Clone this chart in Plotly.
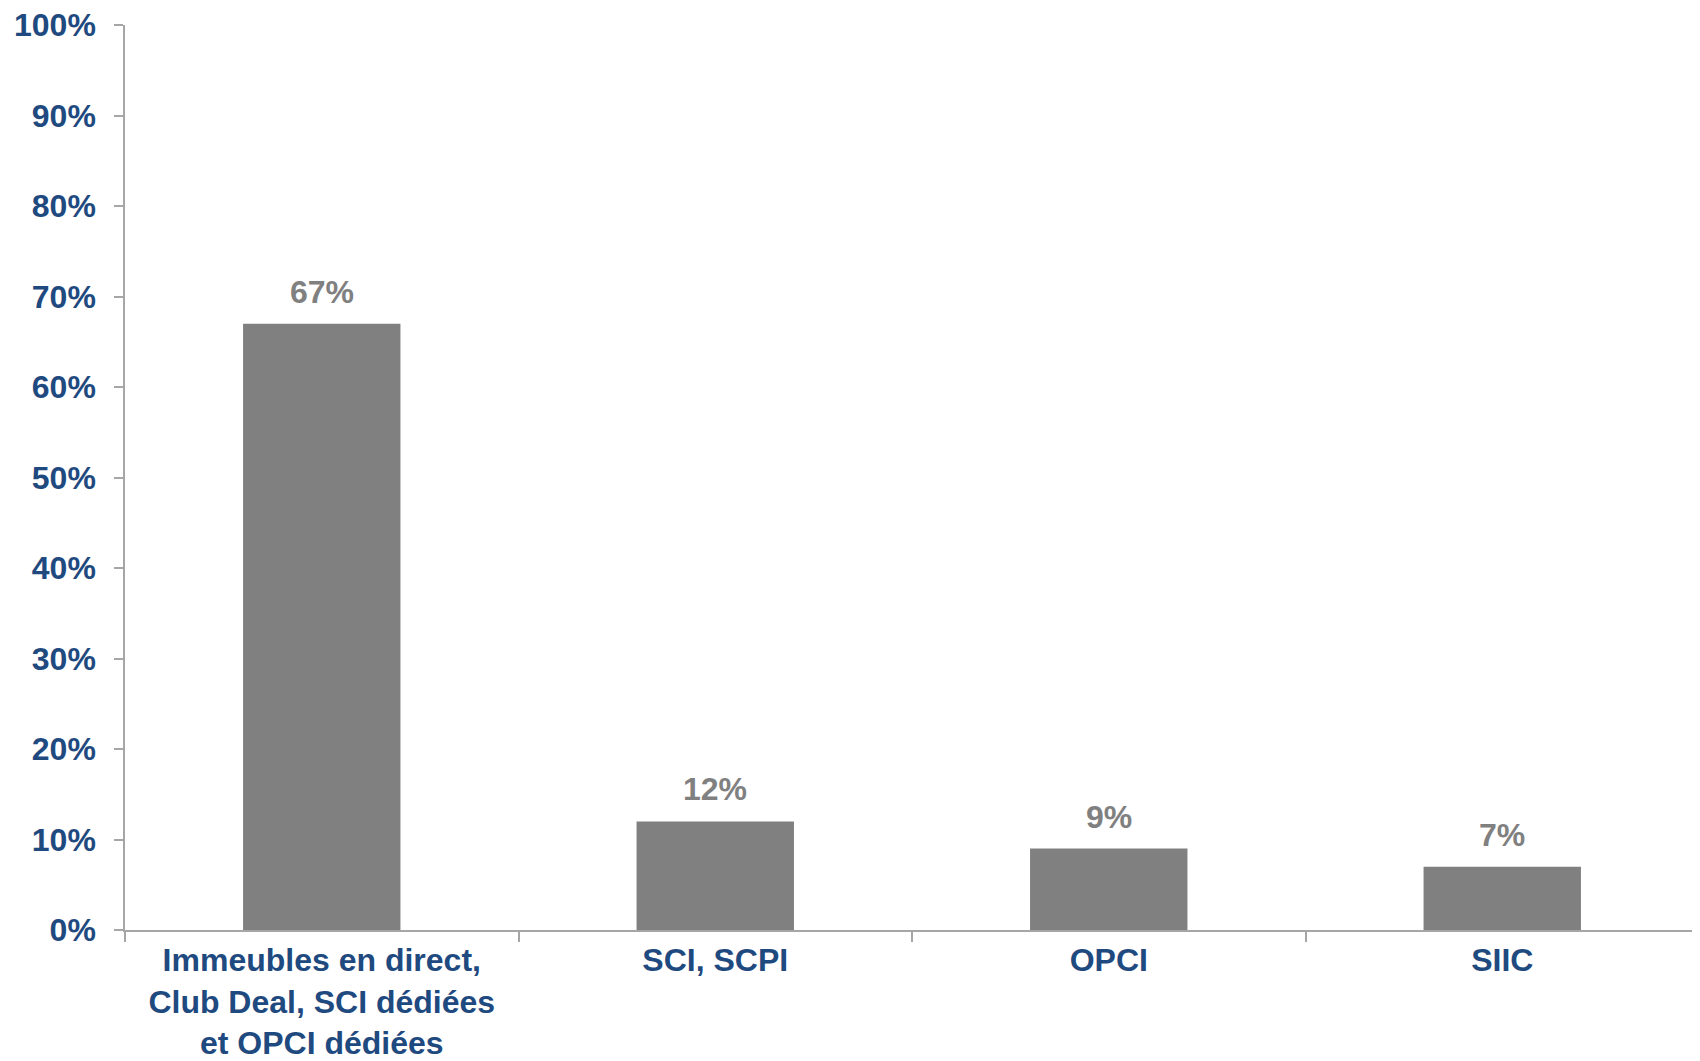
import plotly.graph_objects as go

categories = ["Immeubles en direct,<br>Club Deal, SCI dédiées<br>et OPCI dédiées", "SCI, SCPI", "OPCI", "SIIC"]
values = [0.67, 0.12, 0.09, 0.07]
labels = ["67%", "12%", "9%", "7%"]
y_ticks = [0, 0.1, 0.2, 0.3, 0.4, 0.5, 0.6, 0.7, 0.8, 0.9, 1.0]

BLUE = "#1F4A80"
GREY = "#808080"
AXIS = "#A6A6A6"
FONT = "Liberation Sans, Arial, sans-serif"

fig = go.Figure()
fig.add_trace(go.Bar(x=categories, y=values, marker=dict(color=GREY, line=dict(width=0)),
                     hoverinfo="x+y"))

for c, v, t in zip(categories, values, labels):
    fig.add_annotation(x=c, y=v, text=t, showarrow=False, yanchor="bottom", yshift=12,
                       font=dict(family=FONT, size=32, color=GREY, weight="bold"))

fig.update_layout(
    width=1692, height=1053,
    margin=dict(l=117, r=1, t=17, b=131),
    paper_bgcolor="white", plot_bgcolor="white",
    bargap=0.6, showlegend=False,
    font=dict(family=FONT, size=32, color=BLUE),
)
fig.update_xaxes(automargin=False, showline=True, linecolor=AXIS, linewidth=1.5, ticks="outside",
                 tickson="boundaries", ticklen=10, tickcolor=AXIS, tickwidth=1.5,
                 ticklabelstandoff=1, ticklabeloverflow="allow",
                 tickfont=dict(family=FONT, size=32, color=BLUE, weight="bold"))
fig.update_yaxes(automargin=False, range=[0, 1], tickvals=y_ticks, tickformat=".0%", showgrid=False,
                 zeroline=False, showline=True, linecolor=AXIS, linewidth=1.5, ticks="outside",
                 ticklen=9, tickcolor=AXIS, tickwidth=1.5, ticklabelstandoff=12,
                 ticklabeloverflow="allow",
                 tickfont=dict(family=FONT, size=32, color=BLUE, weight="bold"))

fig.write_html("out.html")
